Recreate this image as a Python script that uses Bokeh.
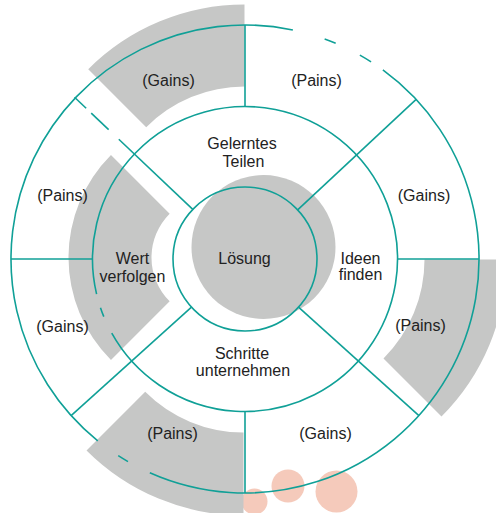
import numpy as np
from bokeh.plotting import figure
from bokeh.models import Range1d, ColumnDataSource
from bokeh.embed import file_html
from bokeh.resources import INLINE
from bokeh.core.properties import value

# ---------------- data ----------------
CX, CY = 244.5, 254.5
ring_radii = [72, 152.5, 234]

# gray annular sectors (offset centres)
wedge_x = [244, 213, 284, 243]
wedge_y = [288, 256, 254, 220]
wedge_inner = [139, 62, 140, 139]
wedge_outer = [221, 145, 222, 222]
wedge_start = [90, 135, -45, 225]
wedge_end = [135, 225, 0, 270]

# gray disc behind "Lösung"
disc_x = [263]
disc_y = [266.5]
disc_r = [72]

# salmon dots
salmon_x = [254, 287.5, 336]
salmon_y = [12, 27.5, 22]
salmon_r = [13, 16.5, 21]

# solid pieces of the outer and middle circles (degrees)
outer_arc_start = [78.2, 237.2, 246, 57.4, 67.2]
outer_arc_end = [231, 240, 413.9, 60.6, 70.1]
mid_arc_start = [209.1, 198.6]
mid_arc_end = [553.3, 202.2]

# spokes: angle, inner radius, outer radius
spoke_angle = [90, 180, 270, 0, 43, 136.5, 136.5, 136.5, 222, 318]
spoke_r0 = [152.5, 152.5, 152.5, 152.5, 72, 72, 188, 219, 72, 72]
spoke_r1 = [234, 234, 234, 234, 234, 174, 212, 235, 234, 234]

label_text = ["(Gains)", "(Pains)", "(Gains)", "(Pains)", "(Gains)", "(Pains)",
              "(Gains)", "(Pains)", "Gelerntes", "Teilen", "Wert", "verfolgen",
              "Ideen", "finden", "Schritte", "unternehmen", "Lösung"]
label_x = [168, 316, 423.5, 420, 325, 172, 62, 62, 241.5, 243, 132, 132,
           360, 360, 241.5, 242.5, 244]
label_y = [433, 433, 318, 188, 80, 80, 187, 318, 370, 352, 255, 237,
           255, 239, 160, 143, 255]

TEAL = "#10A097"
GRAY = "#C6C7C6"
SALMON = "#F5CABB"

# ---------------- figure ----------------
p = figure(width=496, height=513, x_range=Range1d(0, 496), y_range=Range1d(0, 513),
           output_backend="svg", toolbar_location=None,
           x_axis_location=None, y_axis_location=None, min_border=0)
p.grid.visible = False
p.outline_line_color = None
p.background_fill_color = "white"

p.circle(x=salmon_x, y=salmon_y, radius=salmon_r, fill_color=SALMON, line_color=None)

p.annular_wedge(x=wedge_x, y=wedge_y, inner_radius=wedge_inner, outer_radius=wedge_outer,
                start_angle=wedge_start, end_angle=wedge_end, start_angle_units="deg",
                end_angle_units="deg", direction="anticlock", fill_color=GRAY, line_color=None)
p.circle(x=disc_x, y=disc_y, radius=disc_r, fill_color=GRAY, line_color=None)

# circles
p.circle(x=[CX], y=[CY], radius=[ring_radii[0]], fill_color=None, line_color=TEAL, line_width=1.6)
p.arc(x=[CX] * len(outer_arc_start), y=[CY] * len(outer_arc_start), radius=ring_radii[2],
      start_angle=outer_arc_start, end_angle=outer_arc_end, start_angle_units="deg",
      end_angle_units="deg", direction="anticlock", line_color=TEAL, line_width=1.6)
p.arc(x=[CX] * len(mid_arc_start), y=[CY] * len(mid_arc_start), radius=ring_radii[1],
      start_angle=mid_arc_start, end_angle=mid_arc_end, start_angle_units="deg",
      end_angle_units="deg", direction="anticlock", line_color=TEAL, line_width=1.6)

a = np.radians(spoke_angle)
r0 = np.array(spoke_r0)
r1 = np.array(spoke_r1)
p.segment(x0=CX + r0 * np.cos(a), y0=CY + r0 * np.sin(a),
          x1=CX + r1 * np.cos(a), y1=CY + r1 * np.sin(a),
          line_color=TEAL, line_width=1.6)

src = ColumnDataSource(dict(x=label_x, y=label_y, t=label_text))
p.text(x="x", y="y", text="t", source=src, text_align="center", text_baseline="middle",
       text_font=value("Liberation Sans"), text_font_size="16px", text_color="#222222")

open("out.html", "w").write(file_html(p, INLINE))
